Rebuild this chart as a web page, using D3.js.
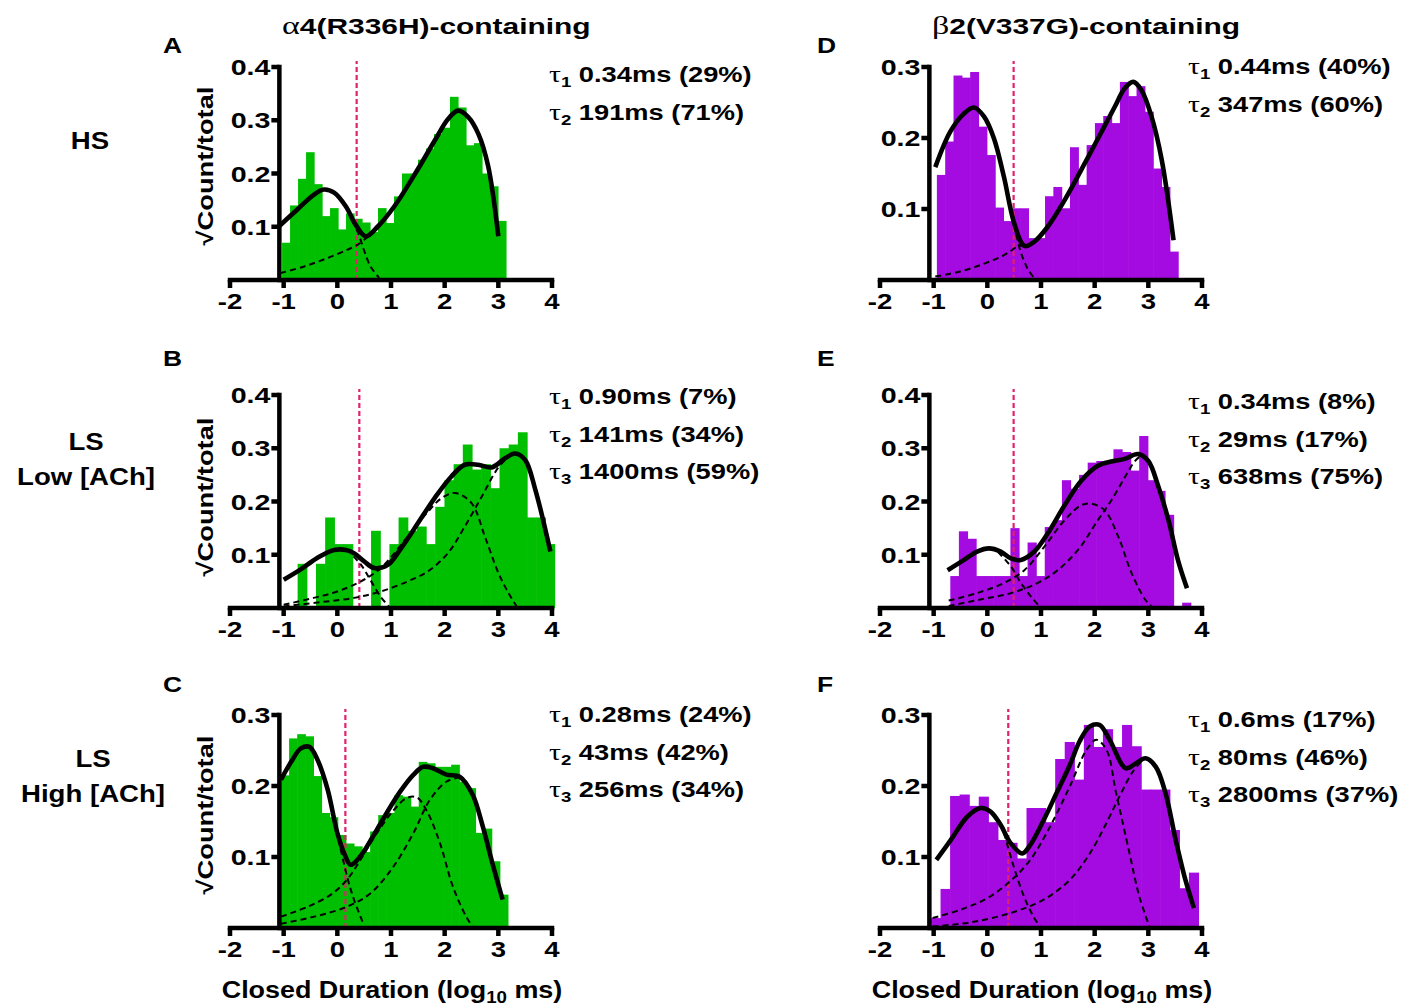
<!DOCTYPE html>
<html>
<head>
<meta charset="utf-8">
<script src="https://cdn.jsdelivr.net/npm/d3@7"></script>
<style>
  body { margin: 0; background: #fff; }
  text { font-family: "Liberation Sans", Arial, sans-serif; font-weight: bold; fill: #000; }
</style>
</head>
<body>
<script>
// ---- data ----
var colTitles = ["α4(R336H)-containing", "β2(V337G)-containing"];
var panelKeys = ["A", "B", "C", "D", "E", "F"];
var xTicks = [-2, -1, 0, 1, 2, 3, 4];

// histogram bins: first edge, bin width (log10 ms), sqrt(count/total)
var startA = -1.03, widthA = 0.149;
var binsA = [0.07, 0.14, 0.19, 0.24, 0.18, 0.12, 0.135, 0.095, 0.125, 0.115, 0.108, 0.09, 0.135, 0.107,
  0.157, 0.2, 0.2, 0.226, 0.247, 0.274, 0.286, 0.344, 0.324, 0.253, 0.257, 0.2, 0.176, 0.111];
var startB = -0.74, widthB = 0.171;
var binsB = [0.083, 0, 0.083, 0.17, 0.12, 0.12, 0, 0, 0.145, 0, 0.12, 0.17, 0.145, 0.153,
  0.12, 0.19, 0.24, 0.27, 0.307, 0.26, 0.27, 0.225, 0.3, 0.307, 0.33, 0.17, 0.17, 0.12];
var startC = -1.05, widthC = 0.151;
var binsC = [0.215, 0.267, 0.273, 0.27, 0.214, 0.162, 0.156, 0.131, 0.119, 0.115, 0.107, 0.136, 0.159, 0.162,
  0.187, 0.185, 0.171, 0.234, 0.232, 0.227, 0.227, 0.23, 0.206, 0.197, 0.134, 0.14, 0.094, 0.047];
var startD = -0.94, widthD = 0.155;
var binsD = [0.148, 0.195, 0.288, 0.285, 0.293, 0.216, 0.176, 0.102, 0.083, 0.101, 0.101, 0.059, 0.059, 0.118,
  0.131, 0.101, 0.187, 0.134, 0.19, 0.221, 0.231, 0.221, 0.279, 0.259, 0.273, 0.237, 0.157, 0.131, 0.04];
var startE = -0.69, widthE = 0.16;
var binsE = [0.06, 0.144, 0.13, 0.06, 0.06, 0.06, 0.06, 0.15, 0.06, 0.123, 0.06, 0.152, 0.165, 0.24,
  0.224, 0.25, 0.273, 0.276, 0.273, 0.298, 0.293, 0.258, 0.323, 0.24, 0.22, 0.175, 0, 0.01];
var startF = -1.05, widthF = 0.178;
var binsF = [0.014, 0.055, 0.186, 0.188, 0.172, 0.185, 0.149, 0.124, 0.12, 0.098, 0.169, 0.169, 0.149, 0.238,
  0.262, 0.209, 0.286, 0.255, 0.28, 0.255, 0.286, 0.256, 0.195, 0.195, 0.195, 0.138, 0.056, 0.078];

// fitted curves: [log10 ms, value]
var fitA = [[-1.075,0.102],[-0.75,0.132],[-0.44,0.16],[-0.25,0.17],[-0.06,0.164],[0.16,0.138],[0.34,0.104],[0.53,0.082],
  [0.75,0.1],[1.06,0.138],[1.44,0.198],[1.81,0.261],[2.06,0.302],[2.25,0.318],[2.44,0.306],[2.63,0.274],[2.81,0.214],[3.0,0.082]];
var compA1 = [[0.28,0.112],[0.4,0.085],[0.5,0.055],[0.62,0.025],[0.78,0.004]];
var compA2 = [[-1.06,0.013],[-0.63,0.025],[-0.19,0.041],[0.19,0.057],[0.375,0.066],[0.55,0.08]];

var fitB = [[-1.0,0.053],[-0.69,0.072],[-0.375,0.094],[-0.06,0.109],[0.16,0.109],[0.31,0.103],[0.5,0.0875],[0.69,0.075],
  [0.94,0.081],[1.19,0.1125],[1.5,0.159],[1.81,0.206],[2.125,0.247],[2.375,0.269],[2.625,0.269],[2.875,0.264],[3.125,0.281],
  [3.31,0.29],[3.5,0.278],[3.69,0.222],[3.97,0.106]];
var compB1 = [[0.3,0.097],[0.45,0.08],[0.62,0.052],[0.8,0.022],[0.97,0.002]];
var compB2 = [[-1,0.006],[-0.44,0.019],[0,0.031],[0.44,0.05],[0.81,0.075],[1.31,0.134],[1.69,0.181],[1.94,0.206],[2.19,0.216],
  [2.5,0.197],[2.75,0.134],[3.0,0.066],[3.19,0.028],[3.34,0.003]];
var compB3 = [[-1,0.003],[-0.31,0.011],[0.31,0.019],[0.81,0.031],[1.31,0.05],[1.69,0.069],[2.06,0.103],[2.375,0.153],
  [2.69,0.209],[3.0,0.264],[3.2,0.285]];

var fitC = [[-1.05,0.209],[-0.86,0.234],[-0.68,0.253],[-0.52,0.255],[-0.37,0.237],[-0.18,0.195],[0,0.134],[0.15,0.101],
  [0.25,0.089],[0.43,0.101],[0.68,0.131],[0.92,0.162],[1.17,0.192],[1.42,0.216],[1.6,0.227],[1.78,0.225],[2.03,0.216],
  [2.28,0.213],[2.52,0.188],[2.71,0.143],[2.89,0.091],[3.08,0.04]];
var compC1 = [[0.02,0.125],[0.18,0.073],[0.31,0.04],[0.49,0.005]];
var compC2 = [[-1.05,0.016],[-0.55,0.03],[-0.12,0.047],[0.18,0.068],[0.43,0.096],[0.74,0.134],[1.05,0.166],[1.29,0.183],
  [1.48,0.184],[1.66,0.166],[1.91,0.12],[2.15,0.059],[2.4,0.016],[2.52,0.002]];
var compC3 = [[-1.05,0.006],[-0.43,0.016],[0.18,0.03],[0.62,0.049],[1.05,0.087],[1.42,0.134],[1.72,0.18],[2.03,0.206],[2.25,0.212]];

var fitD = [[-0.97,0.159],[-0.69,0.209],[-0.44,0.234],[-0.25,0.243],[-0.06,0.23],[0.125,0.199],[0.31,0.145],[0.5,0.08],
  [0.69,0.048],[0.875,0.054],[1.125,0.075],[1.44,0.1125],[1.75,0.155],[2.06,0.199],[2.375,0.244],[2.56,0.27],[2.72,0.279],
  [2.875,0.267],[3.06,0.23],[3.25,0.169],[3.47,0.056]];
var compD1 = [[0.5,0.078],[0.62,0.04],[0.75,0.016],[0.88,0.002]];
var compD2 = [[-0.97,0.005],[-0.5,0.012],[-0.06,0.023],[0.31,0.035],[0.56,0.047],[0.7,0.05]];

var fitE = [[-0.74,0.071],[-0.44,0.09],[-0.19,0.106],[0.03,0.112],[0.25,0.106],[0.44,0.093],[0.625,0.09],[0.875,0.106],
  [1.125,0.14],[1.44,0.193],[1.75,0.239],[2.06,0.267],[2.31,0.275],[2.56,0.28],[2.81,0.289],[3.0,0.276],[3.19,0.227],
  [3.375,0.165],[3.56,0.087],[3.72,0.037]];
var compE1 = [[0.2,0.105],[0.44,0.078],[0.625,0.047],[0.81,0.022],[0.97,0.003]];
var compE2 = [[-0.72,0.014],[-0.19,0.028],[0.31,0.047],[0.69,0.071],[1.06,0.115],[1.44,0.165],[1.75,0.193],[1.94,0.196],
  [2.19,0.183],[2.44,0.134],[2.69,0.065],[2.94,0.016],[3.06,0.003]];
var compE3 = [[-0.72,0.004],[-0.125,0.016],[0.44,0.028],[0.94,0.047],[1.31,0.071],[1.69,0.109],[2.06,0.165],[2.31,0.202],
  [2.56,0.245],[2.75,0.276],[2.85,0.285]];

var fitF = [[-0.95,0.096],[-0.68,0.124],[-0.37,0.157],[-0.12,0.169],[0.06,0.164],[0.25,0.145],[0.43,0.12],[0.65,0.105],
  [0.8,0.117],[1.05,0.152],[1.29,0.19],[1.54,0.23],[1.72,0.263],[1.91,0.284],[2.09,0.286],[2.28,0.265],[2.58,0.225],
  [2.77,0.232],[2.95,0.239],[3.14,0.227],[3.32,0.19],[3.51,0.124],[3.69,0.068],[3.85,0.028]];
var compF1 = [[0.31,0.134],[0.49,0.087],[0.68,0.045],[0.86,0.016],[0.98,0.002]];
var compF2 = [[-1.02,0.014],[-0.49,0.026],[0,0.042],[0.43,0.066],[0.8,0.096],[1.17,0.143],[1.54,0.2],[1.85,0.251],[2.03,0.265],
  [2.22,0.251],[2.4,0.19],[2.65,0.105],[2.83,0.045],[3.02,0.002]];
var compF3 = [[-1.02,0.002],[-0.31,0.008],[0.43,0.021],[1.05,0.04],[1.54,0.068],[1.91,0.105],[2.22,0.148],[2.46,0.185],
  [2.71,0.22],[2.9,0.237]];

// critical closed time (log10 ms), red dashed line
var tcrit = {A: 0.36, B: 0.41, C: 0.15, D: 0.49, E: 0.49, F: 0.39};
var yMaxes = {A: 0.4, B: 0.4, C: 0.3, D: 0.3, E: 0.4, F: 0.3};

var tauA = [["1", "0.34ms (29%)"], ["2", "191ms (71%)"]];
var tauB = [["1", "0.90ms (7%)"], ["2", "141ms (34%)"], ["3", "1400ms (59%)"]];
var tauC = [["1", "0.28ms (24%)"], ["2", "43ms (42%)"], ["3", "256ms (34%)"]];
var tauD = [["1", "0.44ms (40%)"], ["2", "347ms (60%)"]];
var tauE = [["1", "0.34ms (8%)"], ["2", "29ms (17%)"], ["3", "638ms (75%)"]];
var tauF = [["1", "0.6ms (17%)"], ["2", "80ms (46%)"], ["3", "2800ms (37%)"]];

var rowLabels = [["HS"], ["LS", "Low [ACh]"], ["LS", "High [ACh]"]];

// ---- layout ----
var W = 1413, H = 1006;
var green = "#00bf00", purple = "#a40be0";
var colX = [230, 880], plotW = 322;
var rowY0 = [280, 608, 928], plotH = 213;
var tauX = [549, 1188];
var tauY = {A: 82, B: 404, C: 722, D: 74, E: 409, F: 727};

var panels = [
  {key: "A", col: 0, row: 0, start: startA, bw: widthA, bins: binsA, fit: fitA, comps: [compA1, compA2], taus: tauA},
  {key: "B", col: 0, row: 1, start: startB, bw: widthB, bins: binsB, fit: fitB, comps: [compB1, compB2, compB3], taus: tauB},
  {key: "C", col: 0, row: 2, start: startC, bw: widthC, bins: binsC, fit: fitC, comps: [compC1, compC2, compC3], taus: tauC},
  {key: "D", col: 1, row: 0, start: startD, bw: widthD, bins: binsD, fit: fitD, comps: [compD1, compD2], taus: tauD},
  {key: "E", col: 1, row: 1, start: startE, bw: widthE, bins: binsE, fit: fitE, comps: [compE1, compE2, compE3], taus: tauE},
  {key: "F", col: 1, row: 2, start: startF, bw: widthF, bins: binsF, fit: fitF, comps: [compF1, compF2, compF3], taus: tauF}
];

var svg = d3.select("body").append("svg")
  .attr("width", W).attr("height", H);

// text stretched along its baseline, like the original figure
function label(x, y, anchor, size, stretch, rot) {
  var g = svg.append("g")
    .attr("transform", "translate(" + x + "," + y + ") rotate(" + (rot || 0) + ") scale(" + stretch + ",1)");
  return g.append("text").attr("text-anchor", anchor).style("font-size", size + "px");
}

panels.forEach(function(p) {
  var x0 = colX[p.col], y0 = rowY0[p.row];
  var ymax = yMaxes[p.key];
  var x = d3.scaleLinear().domain([-2, 4]).range([x0, x0 + plotW]);
  var y = d3.scaleLinear().domain([0, 0.4]).range([y0, y0 - plotH * 0.4 / ymax]);
  var color = p.col === 0 ? green : purple;
  var g = svg.append("g");

  // histogram
  g.selectAll(".bar").data(p.bins).enter().append("rect")
    .attr("x", function(d, i) { return x(p.start + i * p.bw); })
    .attr("width", x(p.bw) - x(0) + 0.6)
    .attr("y", function(d) { return y(d); })
    .attr("height", function(d) { return y(0) - y(d); })
    .attr("fill", color);

  // critical time
  g.append("line")
    .attr("x1", x(tcrit[p.key])).attr("x2", x(tcrit[p.key]))
    .attr("y1", y(0)).attr("y2", y(ymax) - 6)
    .attr("stroke", "#e0216c").attr("stroke-width", 2.2)
    .attr("stroke-dasharray", "5,3");

  var line = d3.line()
    .x(function(d) { return x(d[0]); })
    .y(function(d) { return y(d[1]); })
    .curve(d3.curveCatmullRom.alpha(0.5));

  p.comps.forEach(function(c) {
    g.append("path").attr("d", line(c))
      .attr("fill", "none").attr("stroke", "#000")
      .attr("stroke-width", 2).attr("stroke-dasharray", "6,4");
  });
  g.append("path").attr("d", line(p.fit))
    .attr("fill", "none").attr("stroke", "#000")
    .attr("stroke-width", 4.6).attr("stroke-linejoin", "round");

  // x axis
  g.append("line")
    .attr("x1", x(-2)).attr("x2", x(4)).attr("y1", y0).attr("y2", y0)
    .attr("stroke", "#000").attr("stroke-width", 4.5).attr("stroke-linecap", "square");
  xTicks.forEach(function(t) {
    g.append("line").attr("x1", x(t)).attr("x2", x(t)).attr("y1", y0).attr("y2", y0 + 8)
      .attr("stroke", "#000").attr("stroke-width", 4.5);
    label(x(t), y0 + 29, "middle", 22, 1.25).text(t);
  });

  // y axis
  var ax = x(-1.08);
  g.append("line")
    .attr("x1", ax).attr("x2", ax).attr("y1", y0).attr("y2", y(ymax))
    .attr("stroke", "#000").attr("stroke-width", 4.5).attr("stroke-linecap", "square");
  d3.range(1, Math.round(ymax * 10) + 1).forEach(function(k) {
    var v = k / 10;
    g.append("line").attr("x1", ax - 8).attr("x2", ax).attr("y1", y(v)).attr("y2", y(v))
      .attr("stroke", "#000").attr("stroke-width", 4.5);
    label(ax - 9, y(v) + 8, "end", 22, 1.3).text(d3.format(".1f")(v));
  });

  // panel letter
  label(x0 - 67 + p.col * 4, p.row === 0 ? 53 : (p.row === 1 ? 366 : 692), "start", 22, 1.2).text(p.key);

  // time constants
  p.taus.forEach(function(t, i) {
    var txt = label(tauX[p.col], tauY[p.key] + i * 37.5, "start", 22, 1.24);
    txt.append("tspan").style("font-family", "'Liberation Serif', serif").style("font-weight", "normal")
      .style("font-size", "24px").text("τ");
    txt.append("tspan").attr("dy", 5).style("font-size", "15px").text(t[0]);
    txt.append("tspan").attr("dy", -5).text(" " + t[1]);
  });
});

// column titles
colTitles.forEach(function(s, i) {
  var t = label([282, 932][i], 34, "start", 22, 1.36);
  t.append("tspan").style("font-family", "'Liberation Serif', serif").style("font-weight", "normal")
    .style("font-size", "25px").text(s.charAt(0));
  t.append("tspan").text(s.slice(1));
});

// row labels
var rowLabelPos = [[90, [149]], [86, [450, 485]], [93, [767, 802]]];
rowLabels.forEach(function(lines, r) {
  lines.forEach(function(s, j) {
    label(rowLabelPos[r][0], rowLabelPos[r][1][j], "middle", 23, 1.2).text(s);
  });
});

// y axis titles
[166, 497, 815].forEach(function(cy) {
  label(213, cy, "middle", 22, 1.24, -90).text("√Count/total");
});

// x axis titles
[392, 1042].forEach(function(cx) {
  var t = label(cx, 998, "middle", 23, 1.17);
  t.append("tspan").text("Closed Duration (log");
  t.append("tspan").attr("dy", 5).style("font-size", "16px").text("10");
  t.append("tspan").attr("dy", -5).text(" ms)");
});
</script>
</body>
</html>
